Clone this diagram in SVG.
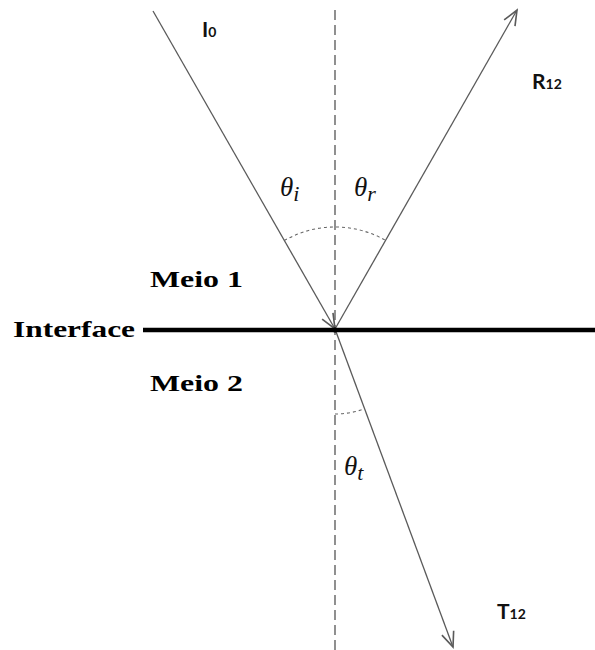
<svg xmlns="http://www.w3.org/2000/svg" width="595" height="650" viewBox="0 0 595 650">
<style>
.ray{stroke:#5a5a5a;stroke-width:1.3;fill:none}
.normal{stroke:#555;stroke-width:1.3;stroke-dasharray:10 5;fill:none}
.arc{stroke:#666;stroke-width:1.1;stroke-dasharray:3 3;fill:none}
.lbl{font-family:"Liberation Serif","Times New Roman",serif;font-weight:bold;font-size:24px;fill:#000}
.ray-lbl{font-family:"Lato","Liberation Sans",Arial,sans-serif;font-weight:bold;font-size:21px;fill:#111}
.ang{font-family:"Liberation Serif","Times New Roman",serif;font-style:italic;font-size:27px;fill:#111}
</style>
<defs>
<marker id="ah" markerUnits="userSpaceOnUse" markerWidth="20" markerHeight="20" viewBox="-14 -8 16 16" refX="0" refY="0" orient="auto">
<path d="M -12 -5 L 0 0 L -12 5" stroke="#5a5a5a" stroke-width="1.3" fill="none"/>
</marker>
</defs>
<rect width="595" height="650" fill="#fff"/>
<g id="connectors">
<line id="normal" class="normal" x1="335" y1="10" x2="335" y2="650"/>
<line id="incident" class="ray" x1="153" y1="11" x2="335" y2="329" marker-end="url(#ah)"/>
<line id="reflected" class="ray" x1="335" y1="329" x2="517" y2="10" marker-end="url(#ah)"/>
<line id="transmitted" class="ray" x1="335" y1="329" x2="453" y2="647" marker-end="url(#ah)"/>
<path id="arc-upper" class="arc" d="M 284.3 240.5 A 102 102 0 0 1 385.7 240.4"/>
<path id="arc-lower" class="arc" d="M 335 414 A 85 85 0 0 0 364.6 408.7"/>
</g>
<g id="interface">
<line x1="143" y1="330" x2="595" y2="330" stroke="#000" stroke-width="4.5"/>
<circle cx="335" cy="330" r="2.5" fill="#000"/>
<text class="lbl" x="13" y="337" textLength="122" lengthAdjust="spacingAndGlyphs">Interface</text>
</g>
<g id="medium1"><text class="lbl" x="150" y="287" textLength="93" lengthAdjust="spacingAndGlyphs">Meio 1</text></g>
<g id="medium2"><text class="lbl" x="150" y="391" textLength="93" lengthAdjust="spacingAndGlyphs">Meio 2</text></g>
<g id="I0"><text class="ray-lbl" x="202" y="37">I<tspan font-size="14">0</tspan></text></g>
<g id="R12"><text class="ray-lbl" x="532" y="89">R<tspan font-size="14">12</tspan></text></g>
<g id="T12"><text class="ray-lbl" x="497" y="619">T<tspan font-size="14">12</tspan></text></g>
<g id="theta-i"><text class="ang" x="280" y="196">θ<tspan font-size="22" dy="5">i</tspan></text></g>
<g id="theta-r"><text class="ang" x="354" y="196">θ<tspan font-size="22" dy="5">r</tspan></text></g>
<g id="theta-t"><text class="ang" x="344" y="475">θ<tspan font-size="22" dy="5">t</tspan></text></g>
</svg>
